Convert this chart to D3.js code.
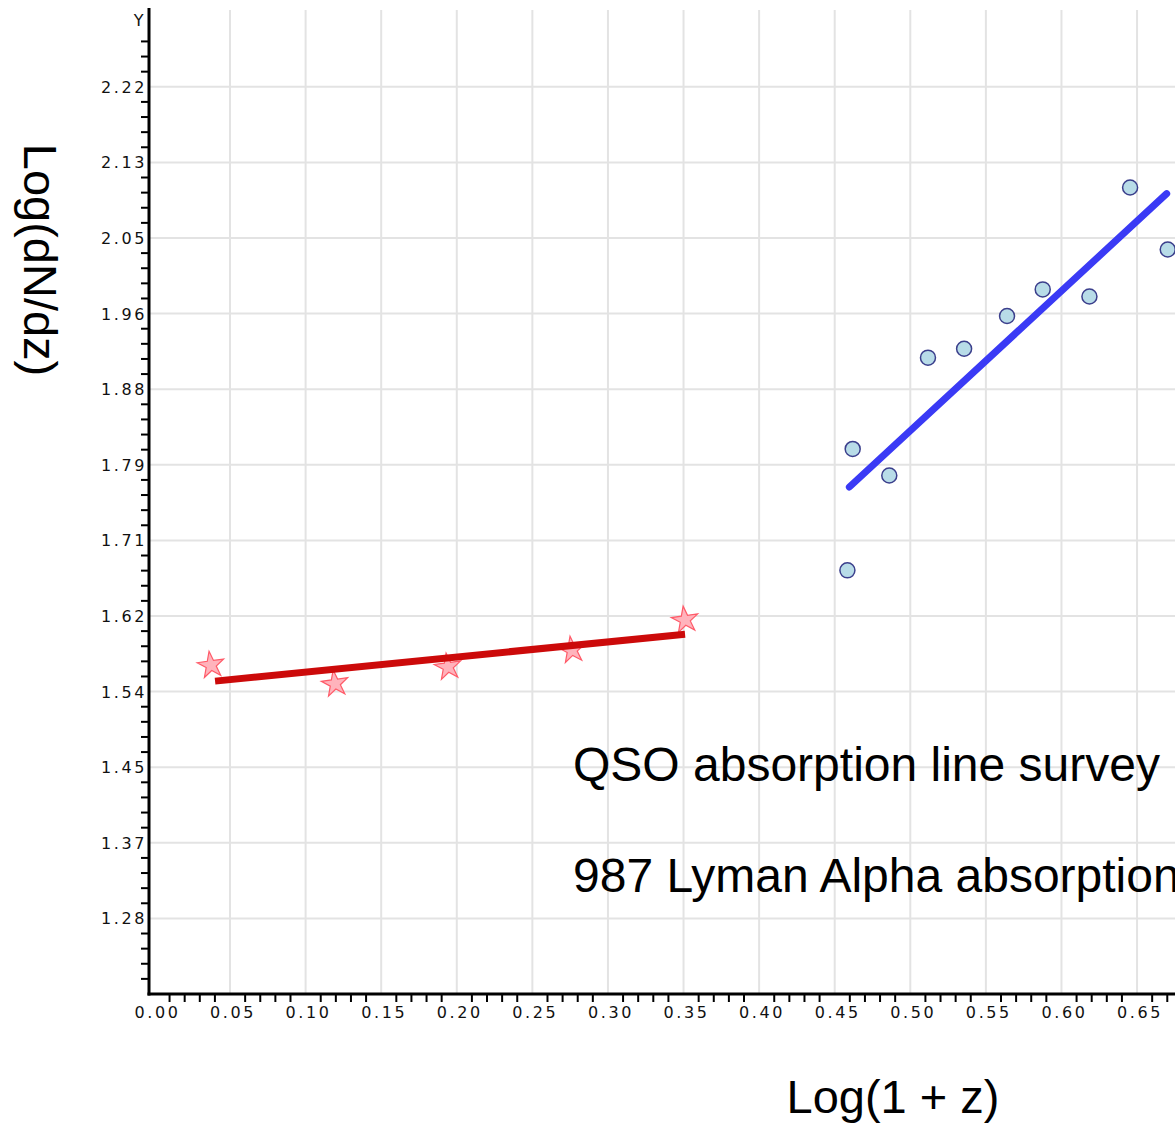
<!DOCTYPE html>
<html>
<head>
<meta charset="utf-8">
<script src="https://cdn.jsdelivr.net/npm/d3@7"></script>
<style>
    body { margin: 0; background: #fff; }
    .tick-label { font-family: "DejaVu Sans", sans-serif; font-size: 16px; letter-spacing: 2.6px; fill: #111; }
    .title { font-family: "Liberation Sans", Arial, sans-serif; fill: #000; }
</style>
</head>
<body>
<div id="chart"></div>
<script>
// red survey (stars) and its fit
var starX = [0.0374, 0.1195, 0.1942, 0.2762, 0.3510];
var starY = [1.566, 1.545, 1.564, 1.583, 1.617];
var redFitX = [0.0401, 0.3510];
var redFitY = [1.548, 1.601];

// blue survey (circles) and its fit
var circleX = [0.4584, 0.4619, 0.4861, 0.5117, 0.5356, 0.5640, 0.5876, 0.6185, 0.6454, 0.6703];
var circleY = [1.673, 1.810, 1.780, 1.913, 1.923, 1.960, 1.990, 1.982, 2.105, 2.035];
var blueFitX = [0.4597, 0.6696];
var blueFitY = [1.767, 2.098];

// axis ticks
var xTicks = [0.00, 0.05, 0.10, 0.15, 0.20, 0.25, 0.30, 0.35, 0.40, 0.45, 0.50, 0.55, 0.60, 0.65];
var yTicks = [1.2803, 1.3656, 1.4509, 1.5362, 1.6215, 1.7068, 1.7921, 1.8774, 1.9627, 2.0480, 2.1333, 2.2186];

var noteLines = ["QSO absorption line survey", "987 Lyman Alpha absorption"];
var xTitle = "Log(1 + z)";
var yTitle = "Log(dN/dz)";

var width = 1175, height = 1125;
var yMin = 1.195, yMax = 2.3075, yStep = 0.0853;

var x = d3.scaleLinear().domain([-0.0036, 0.70]).range([149, 149 + 0.7036 * 1511.7]);
var y = d3.scaleLinear().domain([yMin, yMax]).range([994, 8]);

var svg = d3.select("#chart").append("svg")
    .attr("width", width)
    .attr("height", height);

// grid
var grid = svg.append("g").attr("class", "grid");
grid.selectAll(".vgrid")
    .data(xTicks.filter(function(d) { return d > 0; }))
    .enter().append("line")
    .attr("x1", function(d) { return x(d); })
    .attr("x2", function(d) { return x(d); })
    .attr("y1", y(yMax) + 2)
    .attr("y2", y(yMin))
    .attr("stroke", "#e3e3e3")
    .attr("stroke-width", 2);

grid.selectAll(".hgrid")
    .data(yTicks)
    .enter().append("line")
    .attr("x1", x(-0.0036))
    .attr("x2", width)
    .attr("y1", function(d) { return y(d); })
    .attr("y2", function(d) { return y(d); })
    .attr("stroke", "#e3e3e3")
    .attr("stroke-width", 2);

// minor ticks
var xMinor = [];
for (var i = 1; i <= 70; i++) {
    if (i % 5 != 0) xMinor.push(i / 100);
}
var yMinor = [];
for (var k = 1; yMin + k * yStep / 5 <= 2.27; k++) {
    if (k % 5 != 0) yMinor.push(yMin + k * yStep / 5);
}

var axes = svg.append("g").attr("class", "axes");

axes.selectAll(".xminor")
    .data(xMinor)
    .enter().append("line")
    .attr("x1", function(d) { return x(d); })
    .attr("x2", function(d) { return x(d); })
    .attr("y1", y(yMin))
    .attr("y2", y(yMin) + 8)
    .attr("stroke", "#000")
    .attr("stroke-width", 2);

axes.selectAll(".yminor")
    .data(yMinor)
    .enter().append("line")
    .attr("x1", x(-0.0036) - 8)
    .attr("x2", x(-0.0036))
    .attr("y1", function(d) { return y(d); })
    .attr("y2", function(d) { return y(d); })
    .attr("stroke", "#000")
    .attr("stroke-width", 2);

// axis lines
axes.append("line")
    .attr("x1", x(-0.0036)).attr("x2", x(-0.0036))
    .attr("y1", y(yMax)).attr("y2", y(yMin) + 1.5)
    .attr("stroke", "#000").attr("stroke-width", 3);
axes.append("line")
    .attr("x1", x(-0.0036) - 1.5).attr("x2", width)
    .attr("y1", y(yMin)).attr("y2", y(yMin))
    .attr("stroke", "#000").attr("stroke-width", 3);

// tick labels
axes.selectAll(".xlabel")
    .data(xTicks)
    .enter().append("text")
    .attr("class", "tick-label")
    .attr("x", function(d) { return x(d) + 3; })
    .attr("y", y(yMin) + 24)
    .attr("text-anchor", "middle")
    .text(function(d) { return d3.format(".2f")(d); });

axes.selectAll(".ylabel")
    .data(yTicks)
    .enter().append("text")
    .attr("class", "tick-label")
    .attr("x", x(-0.0036) - 2)
    .attr("y", function(d) { return y(d) + 6; })
    .attr("text-anchor", "end")
    .text(function(d) { return d3.format(".2f")(d); });

axes.append("text")
    .attr("class", "tick-label")
    .attr("x", x(-0.0036) - 9)
    .attr("y", 26)
    .attr("text-anchor", "middle")
    .text("Y");

// fit lines + markers
var line = d3.line()
    .x(function(d) { return x(d[0]); })
    .y(function(d) { return y(d[1]); });

svg.append("path")
    .datum(blueFitX.map(function(d, i) { return [d, blueFitY[i]]; }))
    .attr("d", line)
    .attr("fill", "none")
    .attr("stroke", "#3a3af5")
    .attr("stroke-width", 7)
    .attr("stroke-linecap", "round");

svg.selectAll(".circle")
    .data(circleX.map(function(d, i) { return [d, circleY[i]]; }))
    .enter().append("circle")
    .attr("cx", function(d) { return x(d[0]); })
    .attr("cy", function(d) { return y(d[1]); })
    .attr("r", 7.5)
    .attr("fill", "#b8dce8")
    .attr("stroke", "#3b3f8c")
    .attr("stroke-width", 1.5);

var star = d3.symbol().type(d3.symbolStar).size(220);

svg.selectAll(".star")
    .data(starX.map(function(d, i) { return [d, starY[i]]; }))
    .enter().append("path")
    .attr("d", star)
    .attr("transform", function(d) { return "translate(" + x(d[0]) + "," + y(d[1]) + ") rotate(-8)"; })
    .attr("fill", "#ffb3bc")
    .attr("stroke", "#ff5a68")
    .attr("stroke-width", 1.2);

svg.append("path")
    .datum(redFitX.map(function(d, i) { return [d, redFitY[i]]; }))
    .attr("d", line)
    .attr("fill", "none")
    .attr("stroke", "#cc0a0a")
    .attr("stroke-width", 7);

// annotation
svg.selectAll(".note")
    .data(noteLines)
    .enter().append("text")
    .attr("class", "title")
    .attr("x", 573)
    .attr("y", function(d, i) { return 781 + i * 111; })
    .style("font-size", "48px")
    .text(function(d) { return d; });

// axis titles
svg.append("text")
    .attr("class", "title")
    .attr("x", 893)
    .attr("y", 1113)
    .attr("text-anchor", "middle")
    .style("font-size", "47px")
    .text(xTitle);

svg.append("text")
    .attr("class", "title")
    .attr("transform", "translate(24,260) rotate(90)")
    .attr("text-anchor", "middle")
    .style("font-size", "47px")
    .text(yTitle);
</script>
</body>
</html>
